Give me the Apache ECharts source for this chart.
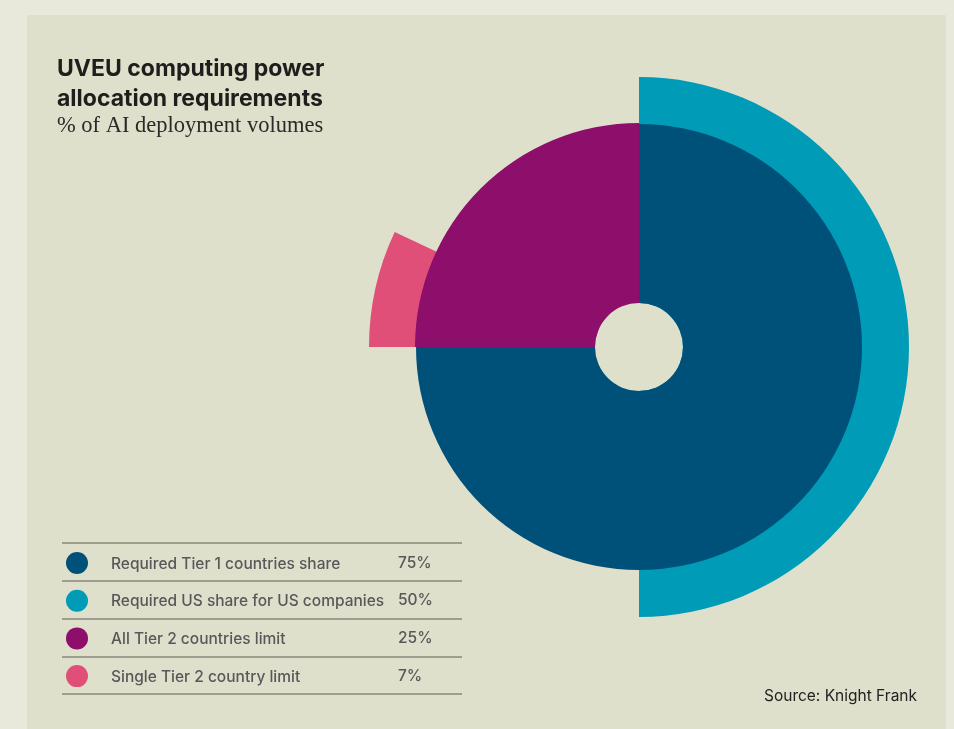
<!DOCTYPE html>
<html>
<head>
<meta charset="utf-8">
<script src="https://cdn.jsdelivr.net/npm/echarts@6/dist/echarts.min.js"></script>
<style>
  html, body { margin: 0; padding: 0; background: #e8e9da; }
  #main { width: 954px; height: 729px; }
</style>
</head>
<body>
<div id="main"></div>
<script>
// categories and values (percent of AI deployment volumes)
var names = [
    'Required Tier 1 countries share',
    'Required US share for US companies',
    'All Tier 2 countries limit',
    'Single Tier 2 country limit'
];
var values = [75, 50, 25, 7];
var pctLabels = ['75%', '50%', '25%', '7%'];

var colors = ['#00517a', '#009bb6', '#8e0e6b', '#e04f78'];

var cx = 639, cy = 347;

// one pie per measure, the rest of the circle is left transparent
function slice(idx, startAngle, outer, z) {
    return {
        type: 'pie',
        z: z,
        center: [cx, cy],
        radius: [44, outer],
        startAngle: startAngle,
        clockwise: true,
        label: { show: false },
        labelLine: { show: false },
        emphasis: { disabled: true },
        itemStyle: { borderWidth: 0 },
        data: [
            { name: names[idx], value: values[idx], itemStyle: { color: colors[idx] } },
            { name: '', value: 100 - values[idx], itemStyle: { color: 'transparent' } }
        ]
    };
}

var pctOf = {};
names.forEach(function (n, i) { pctOf[n] = pctLabels[i]; });

// rule lines of the legend table
var rules = [543, 581, 619, 657, 694].map(function (y) {
    return {
        type: 'line',
        shape: { x1: 62, y1: y, x2: 462, y2: y },
        style: { stroke: '#5a5a55', lineWidth: 1 }
    };
});

var myChart = echarts.init(document.getElementById('main'));
var option = {
    backgroundColor: '#e8e9da',
    animation: false,
    title: {
        left: 52,
        top: 49,
        text: 'UVEU computing power\nallocation requirements',
        textStyle: {
            fontFamily: 'Inter',
            fontWeight: 'bold',
            fontSize: 23,
            lineHeight: 30,
            color: '#1e1e1c'
        },
        subtext: '% of AI deployment volumes',
        itemGap: 0,
        subtextStyle: {
            fontFamily: 'Liberation Serif',
            fontSize: 22.5,
            lineHeight: 24,
            color: '#2a2a28'
        }
    },
    legend: {
        orient: 'vertical',
        left: 61,
        top: 547,
        itemWidth: 22,
        itemHeight: 22,
        itemGap: 15.7,
        icon: 'circle',
        selectedMode: false,
        data: names,
        formatter: function (name) {
            return '{n|' + name + '}{v|' + pctOf[name] + '}';
        },
        textStyle: {
            rich: {
                n: { width: 287, padding: [2, 0, 0, 18], fontFamily: 'Inter', fontWeight: 500, fontSize: 15.5, color: '#58585a' },
                v: { fontFamily: 'Inter', fontWeight: 500, fontSize: 15.5, color: '#58585a' }
            }
        }
    },
    graphic: [
        {
            type: 'rect',
            z: -10,
            shape: { x: 27, y: 15, width: 919, height: 714 },
            style: { fill: '#dfe0cb' }
        },
        {
            type: 'text',
            right: 37,
            top: 688,
            style: {
                text: 'Source: Knight Frank',
                font: '15.5px Inter',
                fill: '#222222'
            }
        }
    ].concat(rules),
    series: [
        slice(1, 90, 270, 1),
        slice(0, 90, 223, 2),
        slice(3, 180, 270, 1),
        slice(2, 180, 224, 2)
    ]
};

myChart.setOption(option);
</script>
</body>
</html>
